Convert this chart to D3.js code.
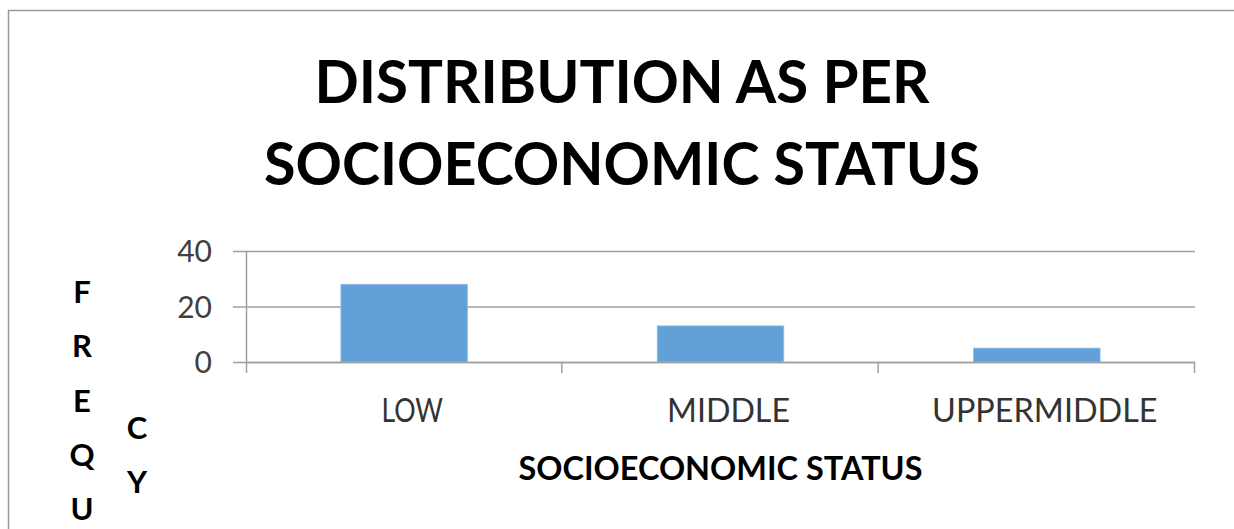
<!DOCTYPE html>
<html>
<head>
<meta charset="utf-8">
<script src="https://cdn.jsdelivr.net/npm/d3@7/dist/d3.min.js"></script>
<style>
  html, body { margin: 0; padding: 0; background: #fff; }
  svg { display: block; }
  text { font-family: Lato, "Liberation Sans", sans-serif; }
</style>
</head>
<body>
<svg id="chart" width="1234" height="529"></svg>
<script>
const categories = ["LOW", "MIDDLE", "UPPERMIDDLE"];
const values = [28, 13, 5];
const yTicks = [0, 20, 40];
const titleLines = ["DISTRIBUTION AS PER", "SOCIOECONOMIC STATUS"];
const xAxisTitle = "SOCIOECONOMIC STATUS";
const yAxisTitle = "FREQUENCY";

const svg = d3.select("#chart");
const W = 1234, H = 529;

// outer chart border (top and left visible)
svg.append("path")
  .attr("d", `M8.5,${H} L8.5,10.5 L${W},10.5`)
  .attr("fill", "none").attr("stroke", "#9a9a9a").attr("stroke-width", 1.5);

const plot = { left: 246, right: 1195, top: 251, bottom: 362 };

const x = d3.scaleBand().domain(categories)
  .range([plot.left, plot.right]).paddingInner(0.6).paddingOuter(0.3);
const xb = d3.scaleBand().domain(categories).range([plot.left, plot.right]).padding(0);
const y = d3.scaleLinear().domain([0, 40]).range([plot.bottom, plot.top]);

// gridlines
svg.append("g").selectAll("line").data(yTicks).join("line")
  .attr("x1", plot.left - 13).attr("x2", plot.right)
  .attr("y1", d => y(d) + 0.5).attr("y2", d => y(d) + 0.5)
  .attr("stroke", "#a0a0a0").attr("stroke-width", 1.5);

// bars
svg.append("g").selectAll("rect").data(values).join("rect")
  .attr("x", (d, i) => x(categories[i]))
  .attr("y", d => y(d))
  .attr("width", x.bandwidth())
  .attr("height", d => y(0) - y(d))
  .attr("fill", "#62a1d7")
  .attr("stroke", "#8dbde6").attr("stroke-width", 0.8);

// y axis line
svg.append("line")
  .attr("x1", plot.left + 0.5).attr("x2", plot.left + 0.5)
  .attr("y1", plot.top).attr("y2", plot.bottom + 11)
  .attr("stroke", "#a0a0a0").attr("stroke-width", 1.5);

// x axis line and ticks at band boundaries
svg.append("line")
  .attr("x1", plot.left).attr("x2", plot.right)
  .attr("y1", plot.bottom + 0.5).attr("y2", plot.bottom + 0.5)
  .attr("stroke", "#a0a0a0").attr("stroke-width", 1.5);
const bounds = categories.map(c => xb(c) + xb.bandwidth());
svg.append("g").selectAll("line").data(bounds).join("line")
  .attr("x1", d => d - 0.5).attr("x2", d => d - 0.5)
  .attr("y1", plot.bottom).attr("y2", plot.bottom + 11)
  .attr("stroke", "#a0a0a0").attr("stroke-width", 1.5);

// y tick labels
svg.append("g").selectAll("text").data(yTicks).join("text")
  .attr("x", 212).attr("y", d => y(d) + 11)
  .attr("text-anchor", "end")
  .attr("font-size", 30).attr("fill", "#404040")
  .text(d => d);

// x category labels
svg.append("g").selectAll("text").data(categories).join("text")
  .attr("x", d => xb(d) + xb.bandwidth() / 2 + 8)
  .attr("y", 422)
  .attr("text-anchor", "middle")
  .attr("font-size", 33).attr("fill", "#333")
  .attr("textLength", d => d.length * 20.5)
  .attr("lengthAdjust", "spacingAndGlyphs")
  .text(d => d);

// x axis title
svg.append("text")
  .attr("x", (plot.left + plot.right) / 2).attr("y", 480)
  .attr("text-anchor", "middle")
  .attr("font-size", 32).attr("font-weight", "bold").attr("fill", "#000")
  .attr("textLength", 404).attr("lengthAdjust", "spacingAndGlyphs")
  .text(xAxisTitle);

// chart title
const titleWidths = [615, 716];
svg.append("g").selectAll("text").data(titleLines).join("text")
  .attr("x", 622).attr("y", (d, i) => 103 + i * 82)
  .attr("text-anchor", "middle")
  .attr("font-size", 60).attr("font-weight", "bold").attr("fill", "#000")
  .attr("textLength", (d, i) => titleWidths[i]).attr("lengthAdjust", "spacingAndGlyphs")
  .text(d => d);

// stacked y axis title, wrapped into columns of 7 letters (as in the reference, the lower letters run past the frame)
const letters = yAxisTitle.split("");
const perCol = 7, step = 54.3, centerY = 466;
const cols = d3.groups(letters.map((l, i) => ({ l, i })), d => Math.floor(d.i / perCol));
cols.forEach(([c, arr]) => {
  const n = arr.length;
  svg.append("g").selectAll("text").data(arr).join("text")
    .attr("x", 82 + c * 55)
    .attr("y", (d, k) => centerY + (k - (n - 1) / 2) * step)
    .attr("text-anchor", "middle")
    .attr("font-size", 31).attr("font-weight", "bold").attr("fill", "#000")
    .text(d => d.l);
});
</script>
</body>
</html>
